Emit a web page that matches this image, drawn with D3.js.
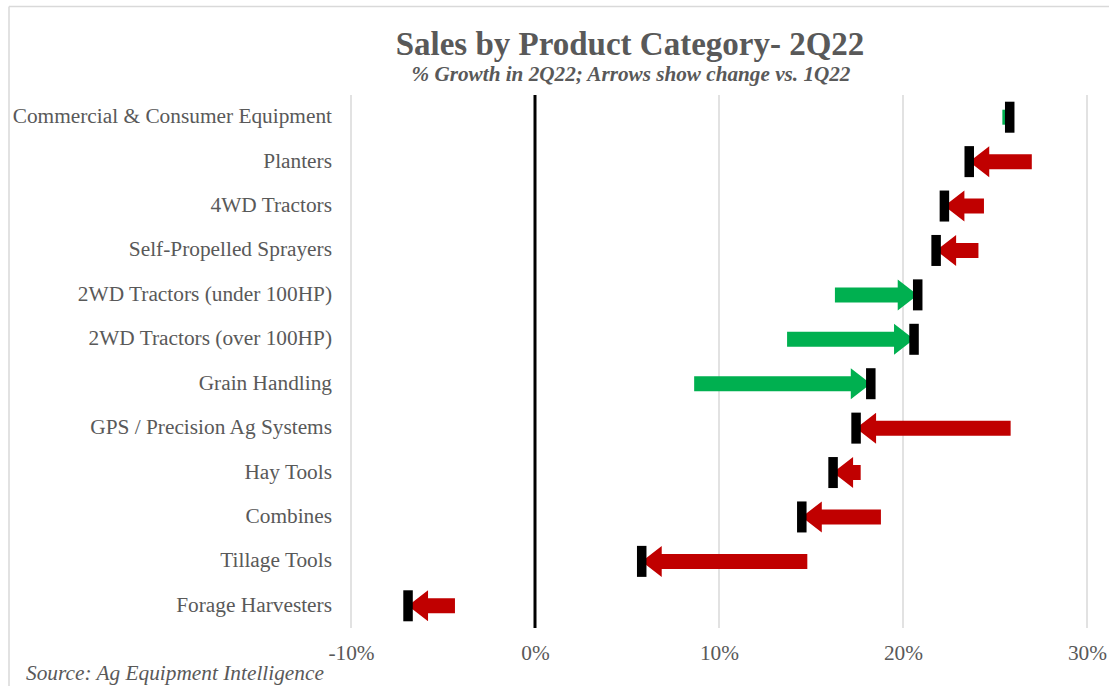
<!DOCTYPE html>
<html>
<head>
<meta charset="utf-8">
<script src="https://cdn.jsdelivr.net/npm/d3@7/dist/d3.min.js"></script>
<style>
  html, body { margin: 0; padding: 0; background: #ffffff; }
  svg { display: block; }
  text { font-family: "Liberation Serif", "Times New Roman", serif; }
</style>
</head>
<body>
<svg id="chart" width="1109" height="686"></svg>
<script>
// ---- Data ----
const categories = [
  "Commercial & Consumer Equipment",
  "Planters",
  "4WD Tractors",
  "Self-Propelled Sprayers",
  "2WD Tractors (under 100HP)",
  "2WD Tractors (over 100HP)",
  "Grain Handling",
  "GPS / Precision Ag Systems",
  "Hay Tools",
  "Combines",
  "Tillage Tools",
  "Forage Harvesters"
];
// % growth in 1Q22 (arrow tail)
const growth1Q22 = [25.4, 27.0, 24.4, 24.1, 16.3, 13.7, 8.65, 25.85, 17.7, 18.8, 14.8, -4.35];
// % growth in 2Q22 (black marker / arrow tip)
const growth2Q22 = [25.8, 23.6, 22.25, 21.8, 20.8, 20.6, 18.25, 17.45, 16.2, 14.5, 5.8, -6.9];
const tickValues = [-10, 0, 10, 20, 30];

const titleText = "Sales by Product Category- 2Q22";
const subtitleText = "% Growth in 2Q22; Arrows show change vs. 1Q22";
const sourceText = "Source: Ag Equipment Intelligence";

// ---- Layout ----
const W = 1109, H = 686;
const plot = { left: 351, right: 1087, top: 95, bottom: 628 };
const textColor = "#595959";
const gridColor = "#d9d9d9";
const upColor = "#00B050";
const downColor = "#C00000";

const svg = d3.select("#chart");

const x = d3.scaleLinear().domain([-10, 30]).range([plot.left, plot.right]);
const y = d3.scaleBand().domain(categories).range([plot.top, plot.bottom]).padding(0);

// chart border (top + left visible)
svg.append("line").attr("x1", 9).attr("x2", W).attr("y1", 6.5).attr("y2", 6.5)
  .attr("stroke", gridColor).attr("stroke-width", 1.5);
svg.append("line").attr("x1", 9).attr("x2", 9).attr("y1", 6.5).attr("y2", H)
  .attr("stroke", gridColor).attr("stroke-width", 1.5);

// gridlines
svg.append("g").selectAll("line")
  .data(tickValues.filter(d => d !== 0))
  .join("line")
  .attr("x1", d => x(d)).attr("x2", d => x(d))
  .attr("y1", plot.top).attr("y2", plot.bottom)
  .attr("stroke", gridColor).attr("stroke-width", 1.5);

// zero line
svg.append("line")
  .attr("x1", x(0)).attr("x2", x(0))
  .attr("y1", plot.top).attr("y2", plot.bottom)
  .attr("stroke", "#000").attr("stroke-width", 3);

// x axis labels
const xAxis = d3.axisBottom(x).tickValues(tickValues).tickSize(0).tickPadding(0)
  .tickFormat(d => d + "%");
const gx = svg.append("g").attr("transform", `translate(0, ${plot.bottom})`).call(xAxis);
gx.select(".domain").remove();
gx.selectAll("text")
  .attr("dy", null).attr("y", 32)
  .style("font-family", '"Liberation Serif", "Times New Roman", serif')
  .style("font-size", "21.33px")
  .attr("fill", textColor);

// y axis labels
const yAxis = d3.axisLeft(y).tickSize(0).tickPadding(0);
const gy = svg.append("g").attr("transform", `translate(332, 0)`).call(yAxis);
gy.select(".domain").remove();
gy.selectAll("text")
  .attr("x", 0).attr("dy", null).attr("y", 6)
  .style("font-family", '"Liberation Serif", "Times New Roman", serif')
  .style("font-size", "21.33px")
  .attr("fill", textColor);

// arrows
const shaftH = 15, headH = 31, headLen = 20;
const rows = categories.map((c, i) => ({ c, q1: growth1Q22[i], q2: growth2Q22[i] }));

function arrowPath(d) {
  const cy = y(d.c) + y.bandwidth() / 2;
  const x0 = x(d.q1), x1 = x(d.q2);
  const dir = x1 >= x0 ? 1 : -1;
  const len = Math.abs(x1 - x0);
  const sh = shaftH / 2, hh = headH / 2;
  if (len <= headLen) {
    // too short for a head: shaft only
    return `M${x0},${cy - sh}L${x1},${cy - sh}L${x1},${cy + sh}L${x0},${cy + sh}Z`;
  }
  const xb = x1 - dir * headLen;
  return `M${x0},${cy - sh}L${xb},${cy - sh}L${xb},${cy - hh}L${x1},${cy}` +
         `L${xb},${cy + hh}L${xb},${cy + sh}L${x0},${cy + sh}Z`;
}

svg.append("g").selectAll("path")
  .data(rows)
  .join("path")
  .attr("d", arrowPath)
  .attr("fill", d => d.q2 >= d.q1 ? upColor : downColor);

// 2Q22 markers
const markW = 9.5, markH = 31;
svg.append("g").selectAll("rect")
  .data(rows)
  .join("rect")
  .attr("x", d => x(d.q2) - markW / 2)
  .attr("y", d => y(d.c) + y.bandwidth() / 2 - markH / 2)
  .attr("width", markW)
  .attr("height", markH)
  .attr("fill", "#000");

// titles
svg.append("text")
  .attr("x", 630).attr("y", 55)
  .attr("text-anchor", "middle")
  .style("font-size", "33px").style("font-weight", "bold")
  .attr("fill", textColor)
  .text(titleText);

svg.append("text")
  .attr("x", 631).attr("y", 81)
  .attr("text-anchor", "middle")
  .style("font-size", "21.2px").style("font-weight", "bold").style("font-style", "italic")
  .attr("fill", textColor)
  .text(subtitleText);

svg.append("text")
  .attr("x", 26).attr("y", 680)
  .style("font-size", "21.33px").style("font-style", "italic")
  .attr("fill", textColor)
  .text(sourceText);
</script>
</body>
</html>
